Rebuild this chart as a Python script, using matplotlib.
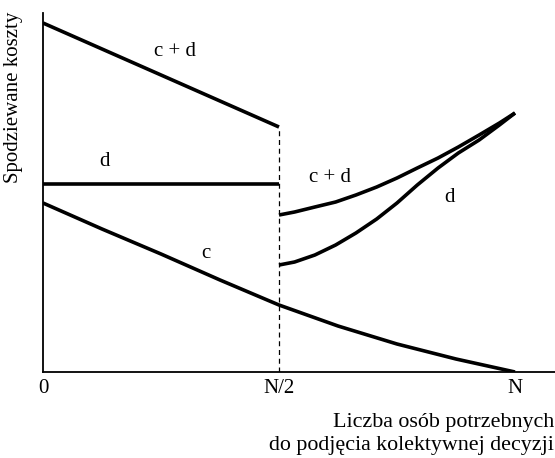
import matplotlib
matplotlib.use("Agg")
import matplotlib.pyplot as plt

plt.rcParams['font.family'] = ['Liberation Serif', 'DejaVu Serif']

# x in units of N, y in arbitrary cost units
x_left = [0.0, 0.5]
cd_left = [349, 245]
d_left = [188, 188]

x_c = [0.0, 0.125, 0.25, 0.375, 0.5, 0.625, 0.75, 0.875, 1.0]
c_vals = [169, 143, 118, 92, 67, 46, 28, 13, 0]

x_right = [0.5, 0.533, 0.576, 0.62, 0.663, 0.707, 0.75, 0.793, 0.837, 0.88, 0.924, 0.967, 1.0]
cd_right = [157, 160, 165, 170, 177, 185, 194, 204, 214, 225, 237, 249, 259]
d_right = [107, 110, 117, 127, 139, 153, 169, 187, 204, 219, 232, 247, 259]

half = 0.5
xticks = [0, 0.5, 1.0]
xticklabels = ['0', 'N/2', 'N']

fig = plt.figure(figsize=(5.55, 4.58), dpi=100)
ax = fig.add_axes([43/555, 86/458, 512/555, 359/458])

lw = 2.6
ax.plot(x_left, cd_left, color='black', lw=lw, solid_capstyle='butt')
ax.plot(x_left, d_left, color='black', lw=lw, solid_capstyle='butt')
ax.plot(x_c, c_vals, color='black', lw=lw, solid_capstyle='butt', solid_joinstyle='round')
ax.plot(x_right, cd_right, color='black', lw=lw, solid_capstyle='butt', solid_joinstyle='round')
ax.plot(x_right, d_right, color='black', lw=lw, solid_capstyle='butt', solid_joinstyle='round')
ax.plot([half, half], [0, cd_left[-1]], color='black', lw=0.9, ls=(0, (4, 3)))

fs = 15
ax.text(0.28, 320, 'c + d', fontsize=fs, ha='center', va='center')
ax.text(0.131, 210, 'd', fontsize=fs, ha='center', va='center')
ax.text(0.608, 194, 'c + d', fontsize=fs, ha='center', va='center')
ax.text(0.862, 175, 'd', fontsize=fs, ha='center', va='center')
ax.text(0.345, 119, 'c', fontsize=fs, ha='center', va='center')

ax.set_xlim(0, 512/472)
ax.set_ylim(0, 359)
for s in ['top', 'right']:
    ax.spines[s].set_visible(False)
ax.spines['left'].set_linewidth(1.3)
ax.spines['bottom'].set_linewidth(1.3)
ax.set_xticks(xticks)
ax.set_xticklabels(xticklabels, fontsize=fs)
ax.set_yticks([])
ax.tick_params(axis='x', length=0, pad=5)

ax.set_ylabel('Spodziewane koszty', fontsize=fs)
ax.yaxis.set_label_coords(-0.04, 0.765)
fig.text(554/555, 1 - 434/458, 'Liczba osób potrzebnych\ndo podjęcia kolektywnej decyzji',
         fontsize=15.8, ha='right', va='center', multialignment='right', linespacing=1.3)

fig.savefig('out.png', dpi=100)
